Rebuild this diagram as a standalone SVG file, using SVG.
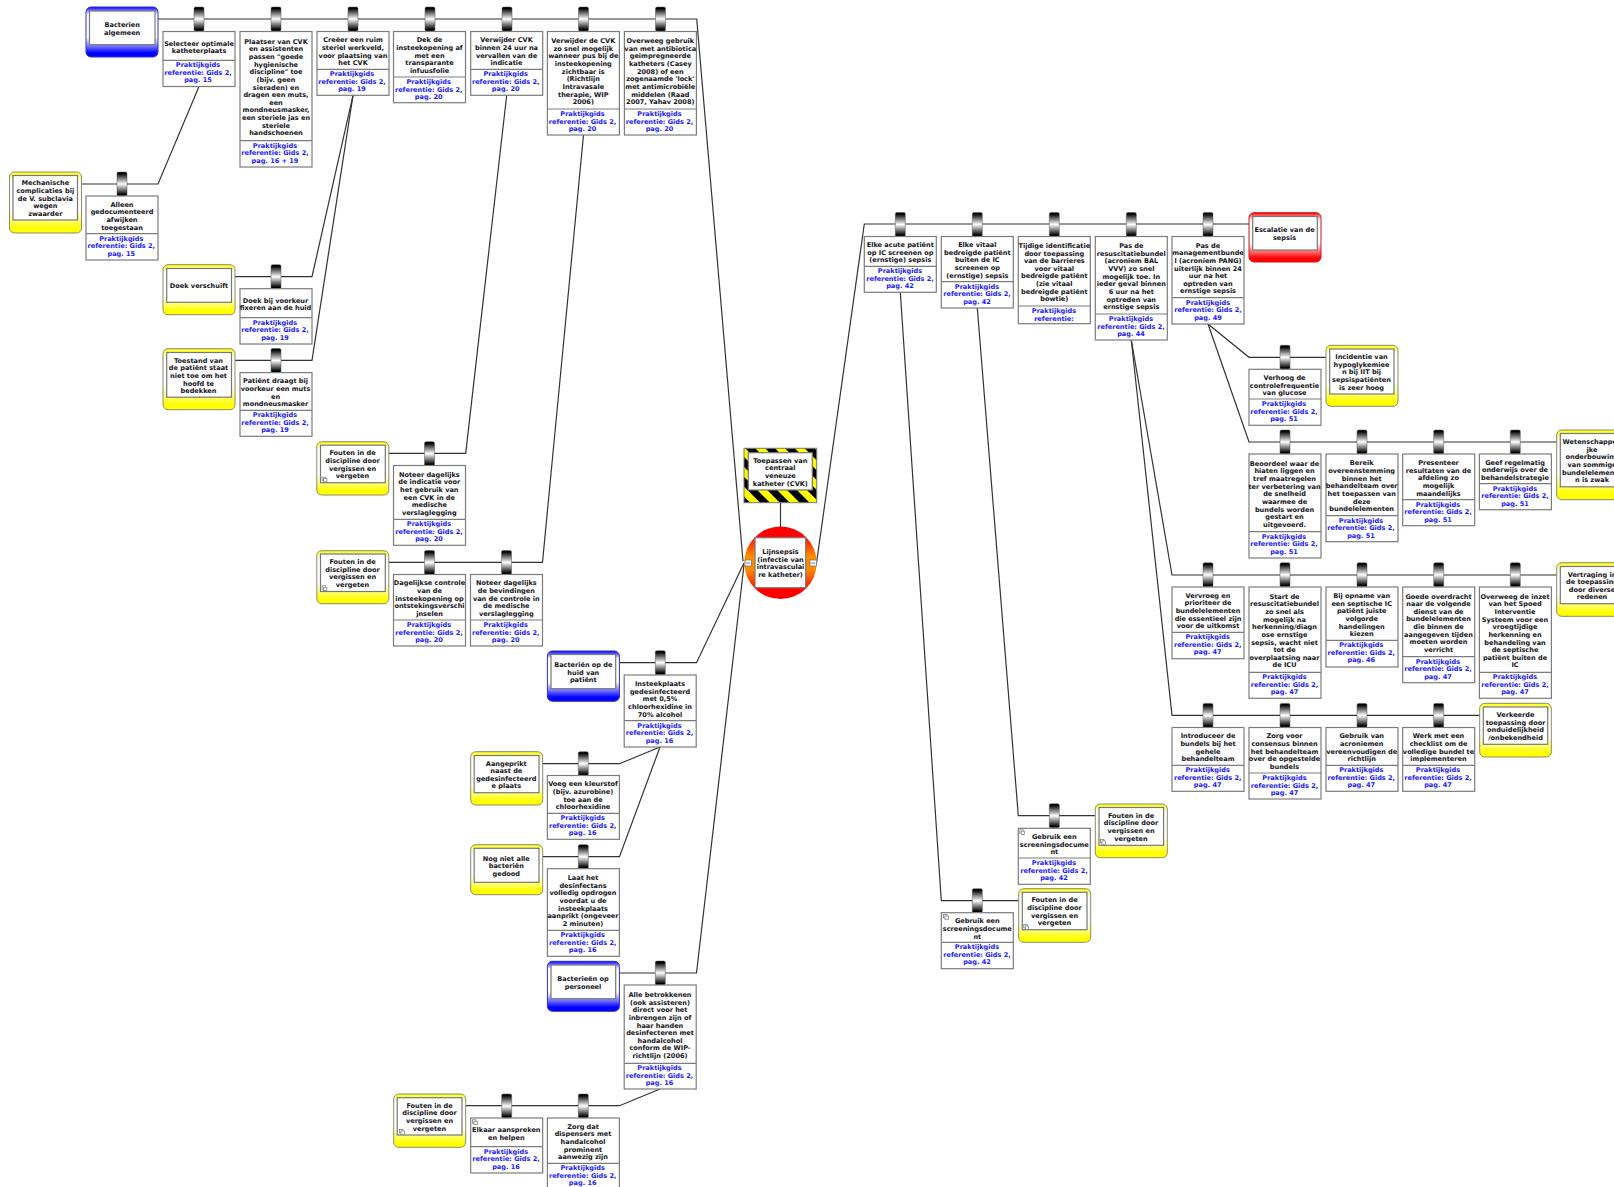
<svg xmlns="http://www.w3.org/2000/svg" width="1614" height="1187" viewBox="0 0 1614 1187">
<style>
text{font-family:"DejaVu Sans","Liberation Sans",sans-serif;font-weight:700;font-size:6.55px;text-anchor:middle;fill:#141420}
.r{fill:#1a1aff}
.b{fill:#fff;stroke:#7c7c7c;stroke-width:1.2}
.d{stroke:#7c7c7c;stroke-width:1.2}
.c{fill:none;stroke:#333;stroke-width:1.2}
.in{fill:#fff;stroke:#777;stroke-width:1.2}
.ty{fill:url(#gy);stroke:#8a8a6a;stroke-width:1}
.tb{fill:url(#gb);stroke:#3030c8;stroke-width:1}
.tr{fill:url(#gr);stroke:#c81818;stroke-width:1}
</style>
<defs>
<linearGradient id="bar" x1="0" y1="0" x2="0" y2="1"><stop offset=".06" stop-color="#000"/><stop offset=".5" stop-color="#fff"/><stop offset=".94" stop-color="#000"/></linearGradient>
<linearGradient id="gy" x1="0" y1="0" x2="0" y2="1"><stop offset="0" stop-color="#ffff00"/><stop offset=".15" stop-color="#fff"/><stop offset=".62" stop-color="#fff"/><stop offset=".92" stop-color="#ffff00"/></linearGradient>
<linearGradient id="gb" x1="0" y1="0" x2="0" y2="1"><stop offset="0" stop-color="#0000ff"/><stop offset=".15" stop-color="#fff"/><stop offset=".62" stop-color="#fff"/><stop offset=".92" stop-color="#0000ff"/></linearGradient>
<linearGradient id="gr" x1="0" y1="0" x2="0" y2="1"><stop offset="0" stop-color="#ff0000"/><stop offset=".15" stop-color="#fff"/><stop offset=".62" stop-color="#fff"/><stop offset=".92" stop-color="#ff0000"/></linearGradient>
<linearGradient id="gc" x1="0" y1="0" x2="0" y2="1"><stop offset=".12" stop-color="#ff0000"/><stop offset=".4" stop-color="#ff8c00"/><stop offset=".6" stop-color="#ff8c00"/><stop offset=".88" stop-color="#ff0000"/></linearGradient>
<pattern id="haz" width="14" height="14" patternUnits="userSpaceOnUse" patternTransform="rotate(-45)"><rect width="14" height="14" fill="#ffff00"/><rect width="7" height="14" fill="#000"/></pattern>
<g id="bx"><rect x="-5" y="0" width="10" height="24" rx="1.5" fill="url(#bar)" stroke="#555" stroke-width=".5"/></g>
<g id="ic"><rect x="-2.2" y="-2.2" width="3.4" height="3.4" fill="#fff" stroke="#777" stroke-width=".7"/><rect x="-.8" y="-.8" width="3.4" height="3.4" fill="#fff" stroke="#777" stroke-width=".7"/></g>
</defs>
<rect width="1614" height="1187" fill="#fff"/>

<g id="connectors">
<path class="c" d="M158 19H696.7L743 561"/>
<path class="c" d="M81 184H158L199 86.5"/>
<path class="c" d="M235 276.7H312L353 95.3"/>
<path class="c" d="M235 360.3H312L353 95.3"/>
<path class="c" d="M389 453.3H465.7L506.7 95.3"/>
<path class="c" d="M389 562.3H542.5L583.5 135"/>
<path class="c" d="M619.5 662.7H696.5L744 563"/>
<path class="c" d="M542.7 763.7H619.5L660 747"/>
<path class="c" d="M542.7 856.7H619.5L660 747"/>
<path class="c" d="M619.5 973H696.5L744 565"/>
<path class="c" d="M465.7 1105.7H619.5L660 1089"/>
<path class="c" d="M780.5 502.7V527"/>
<path class="c" d="M816.5 563L864.3 224H1249"/>
<path class="c" d="M1208 324L1249 357.3H1326"/>
<path class="c" d="M1208 324L1249 442H1557"/>
<path class="c" d="M1131.3 340L1172 575H1557"/>
<path class="c" d="M1131.3 340L1172 715.3H1480"/>
<path class="c" d="M977.3 308L1018.3 815.7H1095.3"/>
<path class="c" d="M900.3 292.3L941.3 900.7H1018.7"/>
</g>

<g id="barriers">
<use href="#bx" x="199" y="7"/><use href="#bx" x="276" y="7"/><use href="#bx" x="353" y="7"/><use href="#bx" x="430" y="7"/><use href="#bx" x="507" y="7"/><use href="#bx" x="583.5" y="7"/><use href="#bx" x="660.5" y="7"/>
<use href="#bx" x="122" y="172"/><use href="#bx" x="276" y="264.7"/><use href="#bx" x="276" y="348.5"/>
<use href="#bx" x="429.5" y="441.7"/><use href="#bx" x="429.5" y="550.5"/><use href="#bx" x="506.5" y="550.5"/>
<use href="#bx" x="660.3" y="650.7"/><use href="#bx" x="583.3" y="751.7"/><use href="#bx" x="583.3" y="844.7"/><use href="#bx" x="660.3" y="961"/><use href="#bx" x="506.7" y="1094"/><use href="#bx" x="583.3" y="1094"/>
<use href="#bx" x="900.3" y="212.5"/><use href="#bx" x="977.3" y="212.5"/><use href="#bx" x="1054.3" y="212.5"/><use href="#bx" x="1131.3" y="212.5"/><use href="#bx" x="1208" y="212.5"/>
<use href="#bx" x="1285" y="345.3"/>
<use href="#bx" x="1285" y="430"/><use href="#bx" x="1362" y="430"/><use href="#bx" x="1438.7" y="430"/><use href="#bx" x="1515.3" y="430"/>
<use href="#bx" x="1208" y="562.8"/><use href="#bx" x="1285" y="562.8"/><use href="#bx" x="1362" y="562.8"/><use href="#bx" x="1438.7" y="562.8"/><use href="#bx" x="1515.3" y="562.8"/>
<use href="#bx" x="1208" y="703.4"/><use href="#bx" x="1285" y="703.4"/><use href="#bx" x="1362" y="703.4"/><use href="#bx" x="1438.7" y="703.4"/>
<use href="#bx" x="1054.3" y="803.8"/><use href="#bx" x="977.3" y="888.7"/>
</g>

<g id="t-bacterien"><rect class="tb" x="86" y="7" width="72" height="50" rx="5"/><rect class="in" x="89.5" y="11" width="65.5" height="33.7"/><text y="26.9"><tspan x="122.2">Bacterien</tspan><tspan x="122.2" dy="7.64">algemeen</tspan></text></g>

<g id="n-b1"><rect class="b" x="163" y="31.5" width="72" height="55"/><line class="d" x1="163" y1="60.3" x2="235" y2="60.3"/><text y="45.5"><tspan x="199">Selecteer optimale</tspan><tspan x="199" dy="7.64">katheterplaats</tspan></text><text class="r" y="67.2"><tspan x="198">Praktijkgids</tspan><tspan x="198" dy="7.64">referentie: Gids 2,</tspan><tspan x="198" dy="7.64">pag. 15</tspan></text></g>

<g id="n-b2"><rect class="b" x="240" y="31.5" width="72" height="135.5"/><line class="d" x1="240" y1="140.7" x2="312" y2="140.7"/><text y="43.7"><tspan x="276">Plaatser van CVK</tspan><tspan x="276" dy="7.64">en assistenten</tspan><tspan x="276" dy="7.64">passen "goede</tspan><tspan x="276" dy="7.64">hygienische</tspan><tspan x="276" dy="7.64">discipline" toe</tspan><tspan x="276" dy="7.64">(bijv. geen</tspan><tspan x="276" dy="7.64">sieraden) en</tspan><tspan x="276" dy="7.64">dragen een muts,</tspan><tspan x="276" dy="7.64">een</tspan><tspan x="276" dy="7.64">mondneusmasker,</tspan><tspan x="276" dy="7.64">een steriele jas en</tspan><tspan x="276" dy="7.64">steriele</tspan><tspan x="276" dy="7.64">handschoenen</tspan></text><text class="r" y="147.6"><tspan x="275">Praktijkgids</tspan><tspan x="275" dy="7.64">referentie: Gids 2,</tspan><tspan x="275" dy="7.64">pag. 16 + 19</tspan></text></g>

<g id="n-b3"><rect class="b" x="317" y="31.5" width="72" height="63.8"/><line class="d" x1="317" y1="69.3" x2="389" y2="69.3"/><text y="42.3"><tspan x="353">Creëer een ruim</tspan><tspan x="353" dy="7.64">steriel werkveld,</tspan><tspan x="353" dy="7.64">voor plaatsing van</tspan><tspan x="353" dy="7.64">het CVK</tspan></text><text class="r" y="76.2"><tspan x="352">Praktijkgids</tspan><tspan x="352" dy="7.64">referentie: Gids 2,</tspan><tspan x="352" dy="7.64">pag. 19</tspan></text></g>

<g id="n-b4"><rect class="b" x="393.5" y="31.5" width="72" height="71.2"/><line class="d" x1="393.5" y1="77" x2="465.5" y2="77"/><text y="42.4"><tspan x="429.5">Dek de</tspan><tspan x="429.5" dy="7.64">insteekopening af</tspan><tspan x="429.5" dy="7.64">met een</tspan><tspan x="429.5" dy="7.64">transparante</tspan><tspan x="429.5" dy="7.64">infuusfolie</tspan></text><text class="r" y="83.9"><tspan x="428.7">Praktijkgids</tspan><tspan x="428.7" dy="7.64">referentie: Gids 2,</tspan><tspan x="428.7" dy="7.64">pag. 20</tspan></text></g>

<g id="n-b5"><rect class="b" x="470.7" y="31.5" width="72" height="63.8"/><line class="d" x1="470.7" y1="69.3" x2="542.7" y2="69.3"/><text y="42.3"><tspan x="506.5">Verwijder CVK</tspan><tspan x="506.5" dy="7.64">binnen 24 uur na</tspan><tspan x="506.5" dy="7.64">vervallen van de</tspan><tspan x="506.5" dy="7.64">indicatie</tspan></text><text class="r" y="76.2"><tspan x="505.7">Praktijkgids</tspan><tspan x="505.7" dy="7.64">referentie: Gids 2,</tspan><tspan x="505.7" dy="7.64">pag. 20</tspan></text></g>

<g id="n-b6"><rect class="b" x="547.4" y="31.5" width="72" height="103.5"/><line class="d" x1="547.4" y1="109" x2="619.4" y2="109"/><text y="43.1"><tspan x="583.3">Verwijder de CVK</tspan><tspan x="583.3" dy="7.64">zo snel mogelijk</tspan><tspan x="583.3" dy="7.64">wanneer pus bij de</tspan><tspan x="583.3" dy="7.64">insteekopening</tspan><tspan x="583.3" dy="7.64">zichtbaar is</tspan><tspan x="583.3" dy="7.64">(Richtlijn</tspan><tspan x="583.3" dy="7.64">Intravasale</tspan><tspan x="583.3" dy="7.64">therapie, WIP</tspan><tspan x="583.3" dy="7.64">2006)</tspan></text><text class="r" y="115.9"><tspan x="582.5">Praktijkgids</tspan><tspan x="582.5" dy="7.64">referentie: Gids 2,</tspan><tspan x="582.5" dy="7.64">pag. 20</tspan></text></g>

<g id="n-b7"><rect class="b" x="624.4" y="31.5" width="72" height="103.5"/><line class="d" x1="624.4" y1="109" x2="696.4" y2="109"/><text y="43.1"><tspan x="660.3">Overweeg gebruik</tspan><tspan x="660.3" dy="7.64">van met antibiotica</tspan><tspan x="660.3" dy="7.64">geïmpregneerde</tspan><tspan x="660.3" dy="7.64">katheters (Casey</tspan><tspan x="660.3" dy="7.64">2008) of een</tspan><tspan x="660.3" dy="7.64">zogenaamde 'lock'</tspan><tspan x="660.3" dy="7.64">met antimicrobiële</tspan><tspan x="660.3" dy="7.64">middelen (Raad</tspan><tspan x="660.3" dy="7.64">2007, Yahav 2008)</tspan></text><text class="r" y="115.9"><tspan x="659.5">Praktijkgids</tspan><tspan x="659.5" dy="7.64">referentie: Gids 2,</tspan><tspan x="659.5" dy="7.64">pag. 20</tspan></text></g>

<g id="t-mech"><rect class="ty" x="9.5" y="172" width="72" height="61" rx="5"/><rect class="in" x="13" y="175.5" width="64.5" height="44.5"/><text y="185.4"><tspan x="45.3">Mechanische</tspan><tspan x="45.3" dy="7.64">complicaties bij</tspan><tspan x="45.3" dy="7.64">de V. subclavia</tspan><tspan x="45.3" dy="7.64">wegen</tspan><tspan x="45.3" dy="7.64">zwaarder</tspan></text></g>

<g id="n-mech"><rect class="b" x="86" y="196" width="72" height="64"/><line class="d" x1="86" y1="233.7" x2="158" y2="233.7"/><text y="206.8"><tspan x="122">Alleen</tspan><tspan x="122" dy="7.64">gedocumenteerd</tspan><tspan x="122" dy="7.64">afwijken</tspan><tspan x="122" dy="7.64">toegestaan</tspan></text><text class="r" y="240.6"><tspan x="121.3">Praktijkgids</tspan><tspan x="121.3" dy="7.64">referentie: Gids 2,</tspan><tspan x="121.3" dy="7.64">pag. 15</tspan></text></g>

<g id="t-doek"><rect class="ty" x="163" y="264.7" width="72" height="50" rx="5"/><rect class="in" x="166.7" y="268.5" width="64.8" height="33.8"/><text y="288.3"><tspan x="199">Doek verschuift</tspan></text></g>

<g id="n-doek"><rect class="b" x="240" y="288.7" width="72" height="55.3"/><line class="d" x1="240" y1="317.7" x2="312" y2="317.7"/><text y="302.8"><tspan x="275.5">Doek bij voorkeur</tspan><tspan x="275.5" dy="7.64">fixeren aan de huid</tspan></text><text class="r" y="324.6"><tspan x="275">Praktijkgids</tspan><tspan x="275" dy="7.64">referentie: Gids 2,</tspan><tspan x="275" dy="7.64">pag. 19</tspan></text></g>

<g id="t-toestand"><rect class="ty" x="163" y="348.7" width="72" height="61" rx="5"/><rect class="in" x="166.7" y="352.5" width="64.8" height="44.7"/><text y="362.6"><tspan x="198.5">Toestand van</tspan><tspan x="198.5" dy="7.64">de patiënt staat</tspan><tspan x="198.5" dy="7.64">niet toe om het</tspan><tspan x="198.5" dy="7.64">hoofd te</tspan><tspan x="198.5" dy="7.64">bedekken</tspan></text></g>

<g id="n-toestand"><rect class="b" x="240" y="372.6" width="72" height="63.7"/><line class="d" x1="240" y1="410.3" x2="312" y2="410.3"/><text y="383.3"><tspan x="275.5">Patiënt draagt bij</tspan><tspan x="275.5" dy="7.64">voorkeur een muts</tspan><tspan x="275.5" dy="7.64">en</tspan><tspan x="275.5" dy="7.64">mondneusmasker</tspan></text><text class="r" y="417.2"><tspan x="275">Praktijkgids</tspan><tspan x="275" dy="7.64">referentie: Gids 2,</tspan><tspan x="275" dy="7.64">pag. 19</tspan></text></g>

<g id="t-fouten1"><rect class="ty" x="316.8" y="441.7" width="72" height="53.3" rx="5"/><rect class="in" x="320.5" y="445.2" width="64.8" height="37.5"/><text y="455.3"><tspan x="352.5">Fouten in de</tspan><tspan x="352.5" dy="7.64">discipline door</tspan><tspan x="352.5" dy="7.64">vergissen en</tspan><tspan x="352.5" dy="7.64">vergeten</tspan></text><use href="#ic" x="324.3" y="479.3"/></g>

<g id="n-noteer1"><rect class="b" x="393.5" y="465.5" width="72" height="79.8"/><line class="d" x1="393.5" y1="519.3" x2="465.5" y2="519.3"/><text y="476.7"><tspan x="429.3">Noteer dagelijks</tspan><tspan x="429.3" dy="7.64">de indicatie voor</tspan><tspan x="429.3" dy="7.64">het gebruik van</tspan><tspan x="429.3" dy="7.64">een CVK in de</tspan><tspan x="429.3" dy="7.64">medische</tspan><tspan x="429.3" dy="7.64">verslaglegging</tspan></text><text class="r" y="526.2"><tspan x="429">Praktijkgids</tspan><tspan x="429" dy="7.64">referentie: Gids 2,</tspan><tspan x="429" dy="7.64">pag. 20</tspan></text></g>

<g id="t-fouten2"><rect class="ty" x="316.8" y="550.7" width="72" height="53" rx="5"/><rect class="in" x="320.5" y="554" width="64.8" height="37.5"/><text y="564.2"><tspan x="352.5">Fouten in de</tspan><tspan x="352.5" dy="7.64">discipline door</tspan><tspan x="352.5" dy="7.64">vergissen en</tspan><tspan x="352.5" dy="7.64">vergeten</tspan></text><use href="#ic" x="324.3" y="588"/></g>

<g id="n-dagelijks"><rect class="b" x="393.5" y="574.5" width="72" height="71.5"/><line class="d" x1="393.5" y1="620" x2="465.5" y2="620"/><text y="585.4"><tspan x="429.5">Dagelijkse controle</tspan><tspan x="429.5" dy="7.64">van de</tspan><tspan x="429.5" dy="7.64">insteekopening op</tspan><tspan x="429.5" dy="7.64">ontstekingsverschi</tspan><tspan x="429.5" dy="7.64">jnselen</tspan></text><text class="r" y="626.9"><tspan x="429">Praktijkgids</tspan><tspan x="429" dy="7.64">referentie: Gids 2,</tspan><tspan x="429" dy="7.64">pag. 20</tspan></text></g>

<g id="n-noteer2"><rect class="b" x="470.5" y="574.5" width="72" height="71.5"/><line class="d" x1="470.5" y1="620" x2="542.5" y2="620"/><text y="585.4"><tspan x="506.3">Noteer dagelijks</tspan><tspan x="506.3" dy="7.64">de bevindingen</tspan><tspan x="506.3" dy="7.64">van de controle in</tspan><tspan x="506.3" dy="7.64">de medische</tspan><tspan x="506.3" dy="7.64">verslaglegging</tspan></text><text class="r" y="626.9"><tspan x="505.7">Praktijkgids</tspan><tspan x="505.7" dy="7.64">referentie: Gids 2,</tspan><tspan x="505.7" dy="7.64">pag. 20</tspan></text></g>

<g id="t-huid"><rect class="tb" x="547.4" y="651" width="72" height="50.3" rx="5"/><rect class="in" x="551" y="654.5" width="64.7" height="34.2"/><text y="666.9"><tspan x="583.3">Bacteriën op de</tspan><tspan x="583.3" dy="7.64">huid van</tspan><tspan x="583.3" dy="7.64">patiënt</tspan></text></g>

<g id="n-insteek"><rect class="b" x="624.2" y="675" width="72" height="72"/><line class="d" x1="624.2" y1="720.7" x2="696.2" y2="720.7"/><text y="686"><tspan x="660">Insteekplaats</tspan><tspan x="660" dy="7.64">gedesinfecteerd</tspan><tspan x="660" dy="7.64">met 0,5%</tspan><tspan x="660" dy="7.64">chloorhexidine in</tspan><tspan x="660" dy="7.64">70% alcohol</tspan></text><text class="r" y="727.6"><tspan x="659.5">Praktijkgids</tspan><tspan x="659.5" dy="7.64">referentie: Gids 2,</tspan><tspan x="659.5" dy="7.64">pag. 16</tspan></text></g>

<g id="t-aangeprikt"><rect class="ty" x="470.7" y="751.7" width="72" height="53.3" rx="5"/><rect class="in" x="474.2" y="755.5" width="64.8" height="37.2"/><text y="765.5"><tspan x="506.3">Aangeprikt</tspan><tspan x="506.3" dy="7.64">naast de</tspan><tspan x="506.3" dy="7.64">gedesinfecteerd</tspan><tspan x="506.3" dy="7.64">e plaats</tspan></text></g>

<g id="n-voeg"><rect class="b" x="547.4" y="775.5" width="72" height="63.8"/><line class="d" x1="547.4" y1="813.3" x2="619.4" y2="813.3"/><text y="786.3"><tspan x="583">Voeg een kleurstof</tspan><tspan x="583" dy="7.64">(bijv. azurobine)</tspan><tspan x="583" dy="7.64">toe aan de</tspan><tspan x="583" dy="7.64">chloorhexidine</tspan></text><text class="r" y="820.2"><tspan x="582.7">Praktijkgids</tspan><tspan x="582.7" dy="7.64">referentie: Gids 2,</tspan><tspan x="582.7" dy="7.64">pag. 16</tspan></text></g>

<g id="t-nogniet"><rect class="ty" x="470.7" y="844.7" width="72" height="50" rx="5"/><rect class="in" x="474.2" y="848.3" width="64.8" height="34"/><text y="860.6"><tspan x="506.3">Nog niet alle</tspan><tspan x="506.3" dy="7.64">bacteriën</tspan><tspan x="506.3" dy="7.64">gedood</tspan></text></g>

<g id="n-laat"><rect class="b" x="547.4" y="868.7" width="72" height="87.6"/><line class="d" x1="547.4" y1="930.3" x2="619.4" y2="930.3"/><text y="880"><tspan x="583">Laat het</tspan><tspan x="583" dy="7.64">desinfectans</tspan><tspan x="583" dy="7.64">volledig opdrogen</tspan><tspan x="583" dy="7.64">voordat u de</tspan><tspan x="583" dy="7.64">insteekplaats</tspan><tspan x="583" dy="7.64">aanprikt (ongeveer</tspan><tspan x="583" dy="7.64">2 minuten)</tspan></text><text class="r" y="937.2"><tspan x="582.7">Praktijkgids</tspan><tspan x="582.7" dy="7.64">referentie: Gids 2,</tspan><tspan x="582.7" dy="7.64">pag. 16</tspan></text></g>

<g id="t-personeel"><rect class="tb" x="547.4" y="961.3" width="72" height="50" rx="5"/><rect class="in" x="551" y="965" width="64.7" height="33.7"/><text y="981"><tspan x="583">Bacterieën op</tspan><tspan x="583" dy="7.64">personeel</tspan></text></g>

<g id="n-alle"><rect class="b" x="624.2" y="985" width="72" height="104"/><line class="d" x1="624.2" y1="1063.3" x2="696.2" y2="1063.3"/><text y="997"><tspan x="660">Alle betrokkenen</tspan><tspan x="660" dy="7.64">(ook assisteren)</tspan><tspan x="660" dy="7.64">direct voor het</tspan><tspan x="660" dy="7.64">inbrengen zijn of</tspan><tspan x="660" dy="7.64">haar handen</tspan><tspan x="660" dy="7.64">desinfecteren met</tspan><tspan x="660" dy="7.64">handalcohol</tspan><tspan x="660" dy="7.64">conform de WIP-</tspan><tspan x="660" dy="7.64">richtlijn (2006)</tspan></text><text class="r" y="1070.2"><tspan x="659.5">Praktijkgids</tspan><tspan x="659.5" dy="7.64">referentie: Gids 2,</tspan><tspan x="659.5" dy="7.64">pag. 16</tspan></text></g>

<g id="t-fouten3"><rect class="ty" x="393.7" y="1094" width="72" height="53.3" rx="5"/><rect class="in" x="397.2" y="1097.7" width="64.8" height="37.3"/><text y="1107.8"><tspan x="429.5">Fouten in de</tspan><tspan x="429.5" dy="7.64">discipline door</tspan><tspan x="429.5" dy="7.64">vergissen en</tspan><tspan x="429.5" dy="7.64">vergeten</tspan></text><use href="#ic" x="401.7" y="1131.7"/></g>

<g id="n-elkaar"><rect class="b" x="470.7" y="1118" width="72" height="55"/><line class="d" x1="470.7" y1="1146.7" x2="542.7" y2="1146.7"/><text y="1131.9"><tspan x="506.3">Elkaar aanspreken</tspan><tspan x="506.3" dy="7.64">en helpen</tspan></text><text class="r" y="1153.6"><tspan x="506">Praktijkgids</tspan><tspan x="506" dy="7.64">referentie: Gids 2,</tspan><tspan x="506" dy="7.64">pag. 16</tspan></text><use href="#ic" x="474.7" y="1122"/></g>

<g id="n-zorgdispensers"><rect class="b" x="547.4" y="1118" width="72" height="71"/><line class="d" x1="547.4" y1="1163.3" x2="619.4" y2="1163.3"/><text y="1128.8"><tspan x="583">Zorg dat</tspan><tspan x="583" dy="7.64">dispensers met</tspan><tspan x="583" dy="7.64">handalcohol</tspan><tspan x="583" dy="7.64">prominent</tspan><tspan x="583" dy="7.64">aanwezig zijn</tspan></text><text class="r" y="1170.2"><tspan x="582.7">Praktijkgids</tspan><tspan x="582.7" dy="7.64">referentie: Gids 2,</tspan><tspan x="582.7" dy="7.64">pag. 16</tspan></text></g>

<g id="hazard"><rect x="744" y="448.3" width="72.7" height="54.4" fill="url(#haz)" stroke="#777" stroke-width="1"/><rect class="in" x="748.3" y="452.7" width="64" height="37.3"/><text y="462.7"><tspan x="780.3">Toepassen van</tspan><tspan x="780.3" dy="7.64">centraal</tspan><tspan x="780.3" dy="7.64">veneuze</tspan><tspan x="780.3" dy="7.64">katheter (CVK)</tspan></text></g>

<g id="top-event"><circle cx="780.5" cy="562.8" r="36.2" fill="url(#gc)"/><rect class="in" x="755" y="537.7" width="50.7" height="50"/><text y="554.1"><tspan x="780.5">Lijnsepsis</tspan><tspan x="780.5" dy="7.64">(infectie van</tspan><tspan x="780.5" dy="7.64">intravasculai</tspan><tspan x="780.5" dy="7.64">re katheter)</tspan></text>
<rect x="745" y="560" width="6.4" height="6" fill="#fff" stroke="#777" stroke-width=".8"/><line x1="746.2" y1="563" x2="750.2" y2="563" stroke="#555" stroke-width=".8"/>
<rect x="810" y="560" width="6.4" height="6" fill="#fff" stroke="#777" stroke-width=".8"/><line x1="811.2" y1="563" x2="815.2" y2="563" stroke="#555" stroke-width=".8"/></g>

<g id="n-c1"><rect class="b" x="864.3" y="236.5" width="72" height="55.8"/><line class="d" x1="864.3" y1="266.3" x2="936.3" y2="266.3"/><text y="247.2"><tspan x="900.3">Elke acute patiënt</tspan><tspan x="900.3" dy="7.64">op IC screenen op</tspan><tspan x="900.3" dy="7.64">(ernstige) sepsis</tspan></text><text class="r" y="273.2"><tspan x="900">Praktijkgids</tspan><tspan x="900" dy="7.64">referentie: Gids 2,</tspan><tspan x="900" dy="7.64">pag. 42</tspan></text></g>

<g id="n-c2"><rect class="b" x="941.3" y="236.5" width="72" height="71.5"/><line class="d" x1="941.3" y1="281.7" x2="1013.3" y2="281.7"/><text y="247.2"><tspan x="977.3">Elke vitaal</tspan><tspan x="977.3" dy="7.64">bedreigde patiënt</tspan><tspan x="977.3" dy="7.64">buiten de IC</tspan><tspan x="977.3" dy="7.64">screenen op</tspan><tspan x="977.3" dy="7.64">(ernstige) sepsis</tspan></text><text class="r" y="288.6"><tspan x="977">Praktijkgids</tspan><tspan x="977" dy="7.64">referentie: Gids 2,</tspan><tspan x="977" dy="7.64">pag. 42</tspan></text></g>

<g id="n-c3"><rect class="b" x="1018.3" y="236.5" width="72" height="87.2"/><line class="d" x1="1018.3" y1="306" x2="1090.3" y2="306"/><text y="247.9"><tspan x="1054.3">Tijdige identificatie</tspan><tspan x="1054.3" dy="7.64">door toepassing</tspan><tspan x="1054.3" dy="7.64">van de barrieres</tspan><tspan x="1054.3" dy="7.64">voor vitaal</tspan><tspan x="1054.3" dy="7.64">bedreigde patiënt</tspan><tspan x="1054.3" dy="7.64">(zie vitaal</tspan><tspan x="1054.3" dy="7.64">bedreigde patiënt</tspan><tspan x="1054.3" dy="7.64">bowtie)</tspan></text><text class="r" y="312.9"><tspan x="1054">Praktijkgids</tspan><tspan x="1054" dy="7.64">referentie:</tspan></text></g>

<g id="n-c4"><rect class="b" x="1095.3" y="236.5" width="72" height="103.5"/><line class="d" x1="1095.3" y1="314" x2="1167.3" y2="314"/><text y="248.1"><tspan x="1131.3">Pas de</tspan><tspan x="1131.3" dy="7.64">resuscitatiebundel</tspan><tspan x="1131.3" dy="7.64">(acroniem BAL</tspan><tspan x="1131.3" dy="7.64">VVV) zo snel</tspan><tspan x="1131.3" dy="7.64">mogelijk toe. In</tspan><tspan x="1131.3" dy="7.64">ieder geval binnen</tspan><tspan x="1131.3" dy="7.64">6 uur na het</tspan><tspan x="1131.3" dy="7.64">optreden van</tspan><tspan x="1131.3" dy="7.64">ernstige sepsis</tspan></text><text class="r" y="320.9"><tspan x="1131">Praktijkgids</tspan><tspan x="1131" dy="7.64">referentie: Gids 2,</tspan><tspan x="1131" dy="7.64">pag. 44</tspan></text></g>

<g id="n-c5"><rect class="b" x="1172" y="236.5" width="72" height="87.5"/><line class="d" x1="1172" y1="297.7" x2="1244" y2="297.7"/><text y="247.6"><tspan x="1208">Pas de</tspan><tspan x="1208" dy="7.64">managementbunde</tspan><tspan x="1208" dy="7.64">l (acroniem PANG)</tspan><tspan x="1208" dy="7.64">uiterlijk binnen 24</tspan><tspan x="1208" dy="7.64">uur na het</tspan><tspan x="1208" dy="7.64">optreden van</tspan><tspan x="1208" dy="7.64">ernstige sepsis</tspan></text><text class="r" y="304.6"><tspan x="1208">Praktijkgids</tspan><tspan x="1208" dy="7.64">referentie: Gids 2,</tspan><tspan x="1208" dy="7.64">pag. 49</tspan></text></g>

<g id="t-escalatie"><rect class="tr" x="1249" y="212.7" width="72" height="49.3" rx="5"/><rect class="in" x="1252.7" y="216.5" width="64.6" height="33.5"/><text y="232.3"><tspan x="1284.5">Escalatie van de</tspan><tspan x="1284.5" dy="7.64">sepsis</tspan></text></g>

<g id="n-glucose"><rect class="b" x="1249" y="369.3" width="72" height="56"/><line class="d" x1="1249" y1="399" x2="1321" y2="399"/><text y="380"><tspan x="1284.5">Verhoog de</tspan><tspan x="1284.5" dy="7.64">controlefrequentie</tspan><tspan x="1284.5" dy="7.64">van glucose</tspan></text><text class="r" y="405.9"><tspan x="1284">Praktijkgids</tspan><tspan x="1284" dy="7.64">referentie: Gids 2,</tspan><tspan x="1284" dy="7.64">pag. 51</tspan></text></g>

<g id="t-incidentie"><rect class="ty" x="1326" y="345.3" width="72" height="61" rx="5"/><rect class="in" x="1329.7" y="349" width="64.3" height="45"/><text y="359.1"><tspan x="1361.5">Incidentie van</tspan><tspan x="1361.5" dy="7.64">hypoglykemiee</tspan><tspan x="1361.5" dy="7.64">n bij IIT bij</tspan><tspan x="1361.5" dy="7.64">sepsispatiënten</tspan><tspan x="1361.5" dy="7.64">is zeer hoog</tspan></text></g>

<g id="n-e1"><rect class="b" x="1249" y="454" width="72" height="104"/><line class="d" x1="1249" y1="531.7" x2="1321" y2="531.7"/><text y="465.7"><tspan x="1284.5">Beoordeel waar de</tspan><tspan x="1284.5" dy="7.64">hiaten liggen en</tspan><tspan x="1284.5" dy="7.64">tref maatregelen</tspan><tspan x="1284.5" dy="7.64">ter verbetering van</tspan><tspan x="1284.5" dy="7.64">de snelheid</tspan><tspan x="1284.5" dy="7.64">waarmee de</tspan><tspan x="1284.5" dy="7.64">bundels worden</tspan><tspan x="1284.5" dy="7.64">gestart en</tspan><tspan x="1284.5" dy="7.64">uitgevoerd.</tspan></text><text class="r" y="538.6"><tspan x="1284">Praktijkgids</tspan><tspan x="1284" dy="7.64">referentie: Gids 2,</tspan><tspan x="1284" dy="7.64">pag. 51</tspan></text></g>

<g id="n-e2"><rect class="b" x="1326" y="454" width="72" height="87.7"/><line class="d" x1="1326" y1="515.7" x2="1398" y2="515.7"/><text y="465.3"><tspan x="1361.7">Bereik</tspan><tspan x="1361.7" dy="7.64">overeenstemming</tspan><tspan x="1361.7" dy="7.64">binnen het</tspan><tspan x="1361.7" dy="7.64">behandelteam over</tspan><tspan x="1361.7" dy="7.64">het toepassen van</tspan><tspan x="1361.7" dy="7.64">deze</tspan><tspan x="1361.7" dy="7.64">bundelelementen</tspan></text><text class="r" y="522.6"><tspan x="1361">Praktijkgids</tspan><tspan x="1361" dy="7.64">referentie: Gids 2,</tspan><tspan x="1361" dy="7.64">pag. 51</tspan></text></g>

<g id="n-e3"><rect class="b" x="1402.7" y="454" width="72" height="71.7"/><line class="d" x1="1402.7" y1="499.7" x2="1474.7" y2="499.7"/><text y="465"><tspan x="1438.5">Presenteer</tspan><tspan x="1438.5" dy="7.64">resultaten van de</tspan><tspan x="1438.5" dy="7.64">afdeling zo</tspan><tspan x="1438.5" dy="7.64">mogelijk</tspan><tspan x="1438.5" dy="7.64">maandelijks</tspan></text><text class="r" y="506.6"><tspan x="1438">Praktijkgids</tspan><tspan x="1438" dy="7.64">referentie: Gids 2,</tspan><tspan x="1438" dy="7.64">pag. 51</tspan></text></g>

<g id="n-e4"><rect class="b" x="1479.4" y="454" width="72" height="55.7"/><line class="d" x1="1479.4" y1="483.7" x2="1551.4" y2="483.7"/><text y="464.6"><tspan x="1515">Geef regelmatig</tspan><tspan x="1515" dy="7.64">onderwijs over de</tspan><tspan x="1515" dy="7.64">behandelstrategie</tspan></text><text class="r" y="490.6"><tspan x="1515">Praktijkgids</tspan><tspan x="1515" dy="7.64">referentie: Gids 2,</tspan><tspan x="1515" dy="7.64">pag. 51</tspan></text></g>

<g id="t-wetenschap"><rect class="ty" x="1556.7" y="430" width="72" height="69.7" rx="5"/><rect class="in" x="1560.3" y="433.5" width="64.8" height="53.3"/><text y="444"><tspan x="1592">Wetenschappeli</tspan><tspan x="1592" dy="7.64">jke</tspan><tspan x="1592" dy="7.64">onderbouwing</tspan><tspan x="1592" dy="7.64">van sommige</tspan><tspan x="1592" dy="7.64">bundelelemente</tspan><tspan x="1592" dy="7.64">n is zwak</tspan></text></g>

<g id="n-f1"><rect class="b" x="1172" y="587" width="72" height="71.7"/><line class="d" x1="1172" y1="632.3" x2="1244" y2="632.3"/><text y="597.8"><tspan x="1208">Vervroeg en</tspan><tspan x="1208" dy="7.64">prioriteer de</tspan><tspan x="1208" dy="7.64">bundelelementen</tspan><tspan x="1208" dy="7.64">die essentieel zijn</tspan><tspan x="1208" dy="7.64">voor de uitkomst</tspan></text><text class="r" y="639.2"><tspan x="1207.7">Praktijkgids</tspan><tspan x="1207.7" dy="7.64">referentie: Gids 2,</tspan><tspan x="1207.7" dy="7.64">pag. 47</tspan></text></g>

<g id="n-f2"><rect class="b" x="1249" y="587" width="72" height="111.3"/><line class="d" x1="1249" y1="672.3" x2="1321" y2="672.3"/><text y="598.7"><tspan x="1284.5">Start de</tspan><tspan x="1284.5" dy="7.64">resuscitatiebundel</tspan><tspan x="1284.5" dy="7.64">zo snel als</tspan><tspan x="1284.5" dy="7.64">mogelijk na</tspan><tspan x="1284.5" dy="7.64">herkenning/diagn</tspan><tspan x="1284.5" dy="7.64">ose ernstige</tspan><tspan x="1284.5" dy="7.64">sepsis, wacht niet</tspan><tspan x="1284.5" dy="7.64">tot de</tspan><tspan x="1284.5" dy="7.64">overplaatsing naar</tspan><tspan x="1284.5" dy="7.64">de ICU</tspan></text><text class="r" y="679.2"><tspan x="1284.5">Praktijkgids</tspan><tspan x="1284.5" dy="7.64">referentie: Gids 2,</tspan><tspan x="1284.5" dy="7.64">pag. 47</tspan></text></g>

<g id="n-f3"><rect class="b" x="1326" y="587" width="72" height="80"/><line class="d" x1="1326" y1="640.3" x2="1398" y2="640.3"/><text y="598"><tspan x="1361.7">Bij opname van</tspan><tspan x="1361.7" dy="7.64">een septische IC</tspan><tspan x="1361.7" dy="7.64">patiënt juiste</tspan><tspan x="1361.7" dy="7.64">volgorde</tspan><tspan x="1361.7" dy="7.64">handelingen</tspan><tspan x="1361.7" dy="7.64">kiezen</tspan></text><text class="r" y="647.2"><tspan x="1361.3">Praktijkgids</tspan><tspan x="1361.3" dy="7.64">referentie: Gids 2,</tspan><tspan x="1361.3" dy="7.64">pag. 46</tspan></text></g>

<g id="n-f4"><rect class="b" x="1402.7" y="587" width="72" height="95.7"/><line class="d" x1="1402.7" y1="656.7" x2="1474.7" y2="656.7"/><text y="598.5"><tspan x="1438.5">Goede overdracht</tspan><tspan x="1438.5" dy="7.64">naar de volgende</tspan><tspan x="1438.5" dy="7.64">dienst van de</tspan><tspan x="1438.5" dy="7.64">bundelelementen</tspan><tspan x="1438.5" dy="7.64">die binnen de</tspan><tspan x="1438.5" dy="7.64">aangegeven tijden</tspan><tspan x="1438.5" dy="7.64">moeten worden</tspan><tspan x="1438.5" dy="7.64">verricht</tspan></text><text class="r" y="663.6"><tspan x="1438">Praktijkgids</tspan><tspan x="1438" dy="7.64">referentie: Gids 2,</tspan><tspan x="1438" dy="7.64">pag. 47</tspan></text></g>

<g id="n-f5"><rect class="b" x="1479.4" y="587" width="72" height="111.3"/><line class="d" x1="1479.4" y1="672.3" x2="1551.4" y2="672.3"/><text y="598.7"><tspan x="1515">Overweeg de inzet</tspan><tspan x="1515" dy="7.64">van het Spoed</tspan><tspan x="1515" dy="7.64">Interventie</tspan><tspan x="1515" dy="7.64">Systeem voor een</tspan><tspan x="1515" dy="7.64">vroegtijdige</tspan><tspan x="1515" dy="7.64">herkenning en</tspan><tspan x="1515" dy="7.64">behandeling van</tspan><tspan x="1515" dy="7.64">de septische</tspan><tspan x="1515" dy="7.64">patiënt buiten de</tspan><tspan x="1515" dy="7.64">IC</tspan></text><text class="r" y="679.2"><tspan x="1515">Praktijkgids</tspan><tspan x="1515" dy="7.64">referentie: Gids 2,</tspan><tspan x="1515" dy="7.64">pag. 47</tspan></text></g>

<g id="t-vertraging"><rect class="ty" x="1556.7" y="562.7" width="72" height="53.6" rx="5"/><rect class="in" x="1560.3" y="566.5" width="64.8" height="37.2"/><text y="576.5"><tspan x="1592">Vertraging in</tspan><tspan x="1592" dy="7.64">de toepassing</tspan><tspan x="1592" dy="7.64">door diverse</tspan><tspan x="1592" dy="7.64">redenen</tspan></text></g>

<g id="n-g1"><rect class="b" x="1172" y="727.5" width="72" height="63.8"/><line class="d" x1="1172" y1="765.3" x2="1244" y2="765.3"/><text y="738.3"><tspan x="1208">Introduceer de</tspan><tspan x="1208" dy="7.64">bundels bij het</tspan><tspan x="1208" dy="7.64">gehele</tspan><tspan x="1208" dy="7.64">behandelteam</tspan></text><text class="r" y="772.2"><tspan x="1207.7">Praktijkgids</tspan><tspan x="1207.7" dy="7.64">referentie: Gids 2,</tspan><tspan x="1207.7" dy="7.64">pag. 47</tspan></text></g>

<g id="n-g2"><rect class="b" x="1249" y="727.5" width="72" height="71.5"/><line class="d" x1="1249" y1="773" x2="1321" y2="773"/><text y="738.4"><tspan x="1284.5">Zorg voor</tspan><tspan x="1284.5" dy="7.64">consensus binnen</tspan><tspan x="1284.5" dy="7.64">het behandelteam</tspan><tspan x="1284.5" dy="7.64">over de opgestelde</tspan><tspan x="1284.5" dy="7.64">bundels</tspan></text><text class="r" y="779.9"><tspan x="1284.5">Praktijkgids</tspan><tspan x="1284.5" dy="7.64">referentie: Gids 2,</tspan><tspan x="1284.5" dy="7.64">pag. 47</tspan></text></g>

<g id="n-g3"><rect class="b" x="1326" y="727.5" width="72" height="63.8"/><line class="d" x1="1326" y1="765.3" x2="1398" y2="765.3"/><text y="738.3"><tspan x="1361.7">Gebruik van</tspan><tspan x="1361.7" dy="7.64">acroniemen</tspan><tspan x="1361.7" dy="7.64">vereenvoudigen de</tspan><tspan x="1361.7" dy="7.64">richtlijn</tspan></text><text class="r" y="772.2"><tspan x="1361.3">Praktijkgids</tspan><tspan x="1361.3" dy="7.64">referentie: Gids 2,</tspan><tspan x="1361.3" dy="7.64">pag. 47</tspan></text></g>

<g id="n-g4"><rect class="b" x="1402.7" y="727.5" width="72" height="63.8"/><line class="d" x1="1402.7" y1="765.3" x2="1474.7" y2="765.3"/><text y="738.3"><tspan x="1438.5">Werk met een</tspan><tspan x="1438.5" dy="7.64">checklist om de</tspan><tspan x="1438.5" dy="7.64">volledige bundel te</tspan><tspan x="1438.5" dy="7.64">implementeren</tspan></text><text class="r" y="772.2"><tspan x="1438">Praktijkgids</tspan><tspan x="1438" dy="7.64">referentie: Gids 2,</tspan><tspan x="1438" dy="7.64">pag. 47</tspan></text></g>

<g id="t-verkeerde"><rect class="ty" x="1479.7" y="703.3" width="71.6" height="53.7" rx="5"/><rect class="in" x="1483.3" y="707" width="64.4" height="37.3"/><text y="717.1"><tspan x="1515.5">Verkeerde</tspan><tspan x="1515.5" dy="7.64">toepassing door</tspan><tspan x="1515.5" dy="7.64">onduidelijkheid</tspan><tspan x="1515.5" dy="7.64">/onbekendheid</tspan></text></g>

<g id="n-h"><rect class="b" x="1018.3" y="828.3" width="72" height="56"/><line class="d" x1="1018.3" y1="858" x2="1090.3" y2="858"/><text y="839"><tspan x="1054.3">Gebruik een</tspan><tspan x="1054.3" dy="7.64">screeningsdocume</tspan><tspan x="1054.3" dy="7.64">nt</tspan></text><text class="r" y="864.9"><tspan x="1054">Praktijkgids</tspan><tspan x="1054" dy="7.64">referentie: Gids 2,</tspan><tspan x="1054" dy="7.64">pag. 42</tspan></text><use href="#ic" x="1022" y="832"/></g>

<g id="t-fouten-h"><rect class="ty" x="1095.3" y="804" width="72" height="53.7" rx="5"/><rect class="in" x="1099" y="807.5" width="64.6" height="37.8"/><text y="817.8"><tspan x="1131">Fouten in de</tspan><tspan x="1131" dy="7.64">discipline door</tspan><tspan x="1131" dy="7.64">vergissen en</tspan><tspan x="1131" dy="7.64">vergeten</tspan></text><use href="#ic" x="1102.7" y="841.7"/></g>

<g id="n-i"><rect class="b" x="941.3" y="912.7" width="72" height="56"/><line class="d" x1="941.3" y1="942.3" x2="1013.3" y2="942.3"/><text y="923.3"><tspan x="977.3">Gebruik een</tspan><tspan x="977.3" dy="7.64">screeningsdocume</tspan><tspan x="977.3" dy="7.64">nt</tspan></text><text class="r" y="949.2"><tspan x="977">Praktijkgids</tspan><tspan x="977" dy="7.64">referentie: Gids 2,</tspan><tspan x="977" dy="7.64">pag. 42</tspan></text><use href="#ic" x="945.7" y="916.7"/></g>

<g id="t-fouten-i"><rect class="ty" x="1018.7" y="888.7" width="72" height="53.6" rx="5"/><rect class="in" x="1022.3" y="892.3" width="64.7" height="37.4"/><text y="902.4"><tspan x="1054.5">Fouten in de</tspan><tspan x="1054.5" dy="7.64">discipline door</tspan><tspan x="1054.5" dy="7.64">vergissen en</tspan><tspan x="1054.5" dy="7.64">vergeten</tspan></text><use href="#ic" x="1026" y="926.7"/></g>
</svg>
